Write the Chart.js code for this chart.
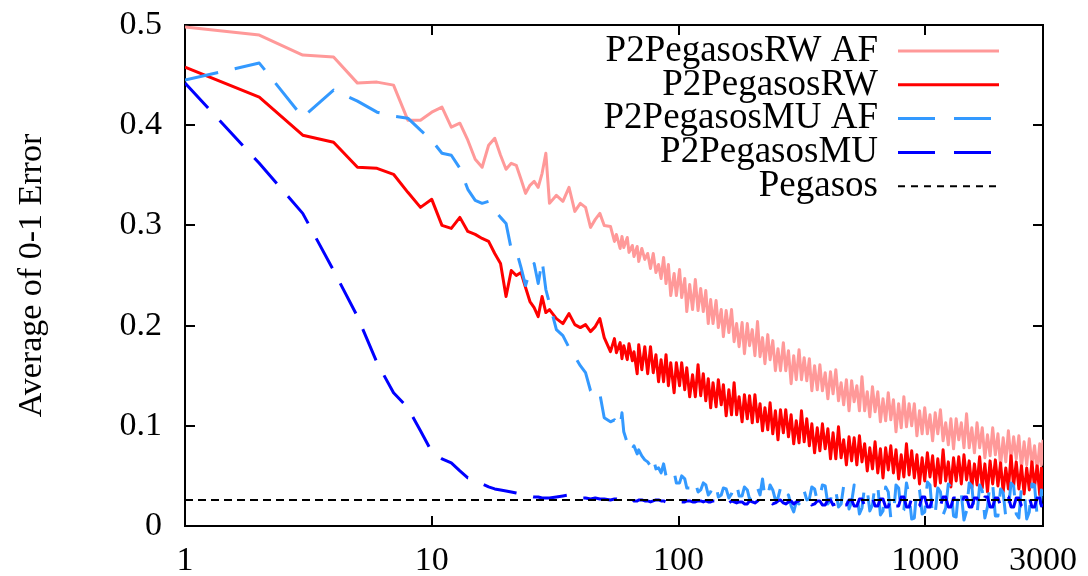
<!DOCTYPE html>
<html>
<head>
<meta charset="utf-8">
<script src="https://cdn.jsdelivr.net/npm/chart.js@4.4.1/dist/chart.umd.min.js"></script>
<style>
html,body{margin:0;padding:0;background:#fff;}
canvas{display:block;}
</style>
</head>
<body>
<canvas id="c" width="1088" height="576"></canvas>
<script>
const iterations = [1,2,3,4,5,6,7,8,9,10,11,12,13,14,15,16,17,18,19,20,21,22,23,24,25,26,27,28,29,30,
32,34,36,38,40,42,44,46,48,50,
53,55,56,58,59,60,62,63,65,66,
68,69,71,73,75,77,79,81,83,85,
87,89,91,93,96,98,101,103,106,108,
111,114,117,120,123,126,129,132,135,138,
142,145,149,152,156,160,164,168,172,176,
181,185,190,194,199,204,209,214,219,224,
230,235,241,247,253,259,266,272,279,286,
293,300,308,315,323,331,339,347,356,365,
374,383,393,403,413,423,434,445,456,467,
479,491,503,515,528,541,554,568,582,596,
611,626,642,658,674,691,708,725,743,761,
780,799,819,839,860,881,903,925,948,971,
995,1020,1045,1071,1097,1124,1152,1181,1210,1240,
1270,1302,1334,1367,1400,1435,1470,1507,1544,1582,
1621,1661,1702,1744,1787,1831,1876,1923,1970,2019,
2069,2120,2172,2226,2281,2337,2395,2454,2515,2577,
2640,2705,2772,2840,2910,2955,3000];

const rwAF = [.498,.490,.470,.468,.442,.443,.440,.405,.405,.413,.418,.398,.402,.385,.366,.358,.380,.387,.370,.356,.362,.360,.346,.332,.340,.344,.338,.352,.372,.322,
.330,.324,.338,.314,.322,.318,.298,.306,.312,.300,
.299,.284,.291,.277,.289,.278,.288,.273,.280,.269,
.279,.264,.277,.266,.272,.257,.272,.253,.261,.247,
.268,.242,.261,.230,.252,.230,.256,.228,.247,.214,
.241,.216,.246,.215,.237,.214,.235,.202,.226,.202,
.225,.198,.216,.189,.215,.193,.216,.184,.202,.179,
.203,.172,.202,.180,.196,.170,.204,.169,.188,.162,
.191,.166,.185,.155,.177,.155,.183,.155,.175,.142,
.170,.146,.176,.146,.168,.145,.167,.135,.160,.136,
.161,.135,.153,.127,.154,.132,.156,.125,.143,.121,
.146,.115,.145,.124,.140,.115,.149,.115,.134,.109,
.139,.114,.134,.104,.127,.105,.133,.106,.126,.094,
.122,.098,.129,.099,.122,.100,.122,.090,.115,.092,
.118,.092,.111,.085,.113,.092,.116,.085,.103,.081,
.107,.077,.107,.086,.103,.078,.112,.078,.098,.073,
.103,.078,.098,.068,.091,.070,.098,.071,.092,.060,
.088,.064,.095,.065,.089,.067,.090,.058,.084,.061,
.087,.061,.080,.054,.082,.061,.086];

const rw = [.458,.428,.390,.383,.358,.357,.351,.333,.318,.326,.300,.297,.308,.294,.291,.287,.284,.272,.262,.229,.255,.250,.253,.238,.224,.218,.209,.229,.213,.216,
.207,.202,.212,.201,.198,.201,.194,.199,.207,.188,
.174,.187,.173,.183,.167,.180,.166,.182,.165,.174,
.152,.181,.156,.179,.152,.179,.153,.171,.144,.166,
.144,.171,.140,.163,.133,.163,.140,.163,.136,.158,
.129,.151,.129,.161,.130,.152,.125,.147,.118,.143,
.119,.146,.121,.141,.110,.136,.111,.143,.111,.129,
.104,.131,.107,.130,.103,.131,.104,.122,.095,.118,
.096,.123,.092,.115,.086,.116,.093,.116,.089,.111,
.082,.105,.083,.115,.084,.107,.080,.102,.073,.098,
.075,.102,.077,.097,.067,.093,.067,.099,.068,.086,
.061,.089,.065,.088,.061,.090,.064,.082,.055,.078,
.057,.084,.053,.077,.048,.078,.056,.080,.053,.076,
.047,.071,.049,.082,.051,.075,.048,.071,.042,.068,
.045,.073,.049,.070,.040,.067,.043,.076,.045,.064,
.039,.068,.045,.069,.042,.071,.046,.065,.038,.062,
.041,.069,.038,.062,.034,.065,.042,.066,.040,.063,
.034,.058,.037,.070,.040,.064,.037,.060,.032,.058,
.036,.064,.039,.060,.031,.058,.034];

const muAF = [.445,.462,.408,.435,.424,.413,.409,.407,.395,.385,.372,.370,.357,.336,.325,.322,.324,.315,.308,.302,.276,.275,.258,.240,.255,.262,.242,.265,.236,.222,
.196,.190,.178,.169,.160,.153,.135,.128,.132,.108,
.104,.106,.101,.099,.113,.094,.083,.086,.077,.080,
.072,.076,.070,.066,.064,.060,.068,.057,.058,.053,
.062,.050,.049,.055,.054,.043,.043,.050,.047,.038,
.038,.045,.044,.034,.036,.043,.041,.031,.034,.042,
.040,.029,.031,.038,.037,.028,.032,.041,.042,.030,
.030,.039,.036,.027,.029,.040,.038,.031,.047,.028,
.030,.041,.036,.026,.028,.038,.034,.027,.031,.020,
.014,.024,.022,.036,.035,.026,.027,.039,.037,.025,
.029,.041,.040,.022,.026,.038,.035,.019,.022,.040,
.038,.017,.024,.041,.032,.012,.018,.040,.036,.015,
.021,.042,.040,.011,.015,.039,.034,.008,.010,.041,
.038,.013,.016,.043,.030,.007,.008,.039,.036,.012,
.014,.044,.041,.009,.012,.038,.034,.011,.018,.042,
.039,.010,.009,.037,.032,.006,.015,.043,.040,.012,
.011,.041,.035,.008,.019,.044,.042,.010,.010,.037,
.033,.009,.016,.043,.040,.012,.008,.039,.036,.007,
.014,.042,.041,.010,.012,.036,.030];

const mu = [.442,.362,.312,.255,.209,.163,.133,.118,.095,.074,.067,.063,.055,.048,.046,.042,.039,.037,.036,.035,.034,.033,.032,.031,.030,.029,.029,.028,.028,.028,
.029,.030,.031,.029,.028,.028,.027,.028,.027,.027,
.026,.027,.027,.026,.026,.025,.025,.026,.026,.025,
.025,.026,.026,.025,.025,.024,.025,.026,.026,.025,
.025,.024,.025,.025,.024,.025,.025,.024,.024,.025,
.025,.024,.024,.025,.025,.024,.025,.024,.024,.025,
.025,.023,.024,.025,.025,.023,.025,.024,.023,.024,
.024,.022,.022,.025,.024,.023,.025,.026,.023,.022,
.024,.025,.022,.023,.025,.026,.023,.022,.024,.025,
.022,.024,.025,.022,.023,.026,.026,.021,.022,.025,
.025,.021,.021,.026,.026,.021,.022,.027,.027,.021,
.021,.026,.026,.020,.020,.027,.027,.020,.021,.028,
.028,.020,.020,.027,.027,.019,.019,.028,.028,.020,
.020,.029,.029,.019,.019,.028,.028,.019,.020,.029,
.029,.019,.019,.028,.028,.020,.020,.029,.029,.019,
.019,.028,.028,.020,.020,.029,.029,.019,.019,.028,
.028,.020,.020,.029,.029,.019,.019,.028,.028,.020,
.020,.029,.029,.019,.019,.028,.028,.020,.020,.029,
.029,.019,.019,.028,.028,.020,.022];

const pegasosX = [1, 3000];
const pegasosY = [0.026, 0.026];

const seriesNames = ['P2PegasosRW AF', 'P2PegasosRW', 'P2PegasosMU AF', 'P2PegasosMU', 'Pegasos'];
const xTickValues = [1, 10, 100, 1000, 3000];
const xTickLabels = ['1', '10', '100', '1000', '3000'];
const yTickValues = [0, 0.1, 0.2, 0.3, 0.4, 0.5];
const yTickLabels = ['0', '0.1', '0.2', '0.3', '0.4', '0.5'];
const yTitle = 'Average of 0-1 Error';

function pts(xs, ys) { return xs.map((x, i) => ({ x: x, y: ys[i] })); }

Chart.defaults.font.family = '"Liberation Serif", "Times New Roman", serif';
Chart.defaults.color = '#000';

const insideLegend = {
  id: 'insideLegend',
  afterDatasetsDraw(chart) {
    const ctx = chart.ctx;
    const a = chart.chartArea;
    ctx.save();
    ctx.font = '37px "Liberation Serif", "Times New Roman", serif';
    ctx.textAlign = 'right';
    ctx.textBaseline = 'middle';
    chart.data.datasets.forEach((ds, i) => {
      const y = a.top + 26 + i * 33.8;
      ctx.fillStyle = '#000';
      ctx.fillText(ds.label, a.right - 165, y);
      ctx.beginPath();
      ctx.strokeStyle = ds.borderColor;
      ctx.lineWidth = ds.borderWidth;
      ctx.lineCap = 'butt';
      ctx.setLineDash(ds.legendDash || ds.borderDash || []);
      ctx.moveTo(a.right - 145, y);
      ctx.lineTo(a.right - 44, y);
      ctx.stroke();
    });
    ctx.restore();
  }
};

const gridOpts = { drawOnChartArea: false, drawTicks: true, tickLength: -10, color: '#000', lineWidth: 2 };
const borderOpts = { display: true, color: '#000', width: 2 };
function noPad(s) { s.paddingLeft = 0; s.paddingRight = 0; s.paddingTop = 0; s.paddingBottom = 0; }

new Chart(document.getElementById('c'), {
  type: 'line',
  data: {
    datasets: [
      { label: seriesNames[0], data: pts(iterations, rwAF), borderColor: '#ff9999', borderWidth: 3, order: 5 },
      { label: seriesNames[1], data: pts(iterations, rw), borderColor: '#ff0000', borderWidth: 3, order: 4 },
      { label: seriesNames[2], data: pts(iterations, muAF), borderColor: '#3399ff', borderWidth: 3, borderDash: [34, 17], legendDash: [37, 19], order: 3 },
      { label: seriesNames[3], data: pts(iterations, mu), borderColor: '#0000ff', borderWidth: 3, borderDash: [34, 17], legendDash: [37, 19], order: 2 },
      { label: seriesNames[4], data: pts(pegasosX, pegasosY), borderColor: '#000000', borderWidth: 2, borderDash: [8, 5], legendDash: [7, 6], order: 1 }
    ]
  },
  options: {
    responsive: false,
    animation: false,
    devicePixelRatio: 1,
    layout: { padding: { left: 0, right: 45, top: 25, bottom: 0 } },
    elements: { point: { radius: 0, hoverRadius: 0 }, line: { tension: 0, fill: false, borderJoinStyle: 'round' } },
    plugins: { legend: { display: false }, tooltip: { enabled: false } },
    scales: {
      x: {
        type: 'logarithmic', position: 'bottom', min: 1, max: 3000,
        afterBuildTicks: s => { s.ticks = xTickValues.map(v => ({ value: v })); },
        afterFit: s => { s.height = 50; noPad(s); },
        ticks: { autoSkip: false, maxRotation: 0, minRotation: 0, padding: 25, color: '#000', font: { size: 34 },
                 callback: (v, i) => xTickLabels[i] },
        grid: gridOpts, border: borderOpts
      },
      x2: {
        type: 'logarithmic', position: 'top', min: 1, max: 3000,
        afterBuildTicks: s => { s.ticks = xTickValues.map(v => ({ value: v })); },
        afterFit: s => { s.height = 0; noPad(s); },
        ticks: { display: false },
        grid: gridOpts, border: borderOpts
      },
      y: {
        type: 'linear', position: 'left', min: 0, max: 0.5,
        afterBuildTicks: s => { s.ticks = yTickValues.map(v => ({ value: v })); },
        afterFit: s => { s.width = 185; noPad(s); },
        ticks: { autoSkip: false, padding: 33, color: '#000', font: { size: 34 },
                 callback: (v, i) => yTickLabels[i] },
        title: { display: true, text: yTitle, color: '#000', font: { size: 34 }, padding: { top: 12, bottom: 0 } },
        grid: gridOpts, border: borderOpts
      },
      y2: {
        type: 'linear', position: 'right', min: 0, max: 0.5,
        afterBuildTicks: s => { s.ticks = yTickValues.map(v => ({ value: v })); },
        afterFit: s => { s.width = 0; noPad(s); },
        ticks: { display: false },
        grid: gridOpts, border: borderOpts
      }
    }
  },
  plugins: [insideLegend]
});
</script>
</body>
</html>
